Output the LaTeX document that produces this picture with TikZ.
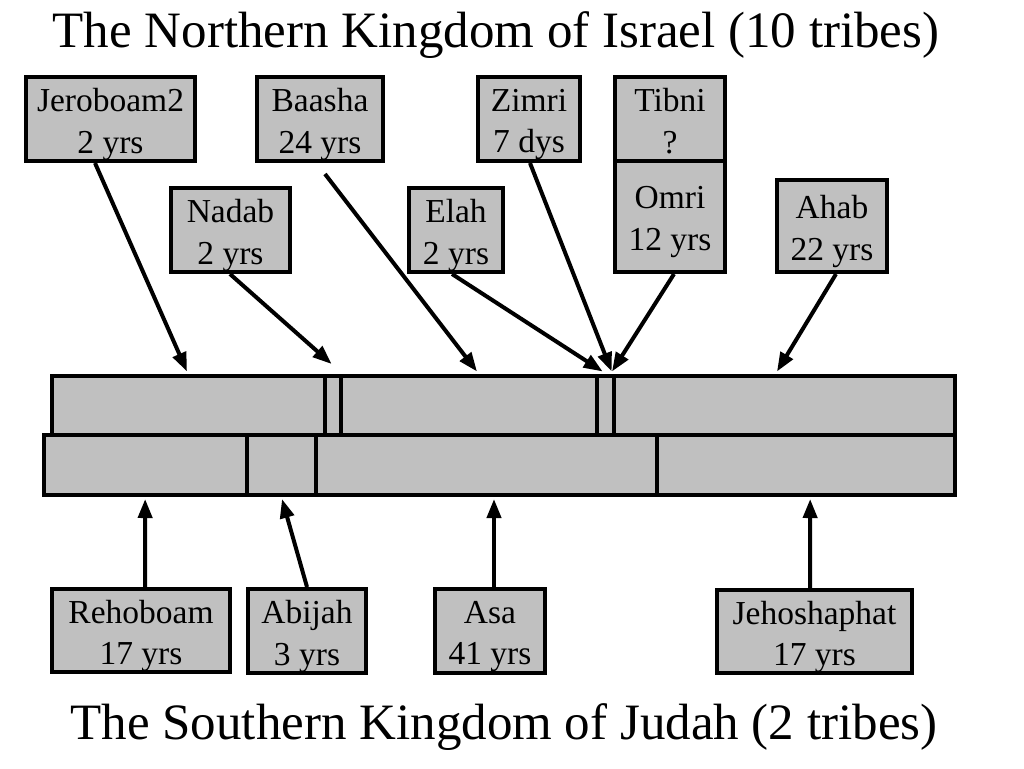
\documentclass[tikz,border=0pt]{standalone}
\usepackage{fontspec}
\setmainfont{Liberation Serif}
\usetikzlibrary{arrows.meta}
\definecolor{boxgray}{HTML}{C0C0C0}
\tikzset{
  kbox/.style={draw=black, line width=4pt, fill=boxgray, rectangle, inner sep=0pt},
  ktext/.style={align=center, font=\fontsize{33.5}{41.5}\selectfont, yshift=-5.5pt, inner sep=0pt},
  seg/.style={draw=black, line width=4pt, fill=boxgray, rectangle, inner sep=0pt},
  conn/.style={line width=4pt, -{Triangle[length=19pt,width=14pt]}},
  ktitle/.style={font=\fontsize{51}{60}\selectfont, anchor=base, inner sep=0pt}
}
\begin{document}
\begin{tikzpicture}[x=1pt,y=-1pt]
\useasboundingbox[fill=white] (0,0) rectangle (1024,768);

% titles
\node[ktitle] (north) at (496,48) {The Northern Kingdom of Israel (10 tribes)};
\node[ktitle] (south) at (504,739) {The Southern Kingdom of Judah (2 tribes)};

% upper bar segments (Israel)
\node[seg, minimum width=272.5pt, minimum height=59pt] (jerS) at (188.25,405.5) {};
\node[seg, minimum width=16.2pt, minimum height=59pt] (nadS) at (332.6,405.5) {};
\node[seg, minimum width=256.6pt, minimum height=59pt] (baaS) at (469,405.5) {};
\node[seg, minimum width=16.7pt, minimum height=59pt] (elaS) at (605.65,405.5) {};
\node[seg, minimum width=341pt, minimum height=59pt] (omrS) at (784.5,405.5) {};
% lower bar segments (Judah)
\node[seg, minimum width=203.3pt, minimum height=60pt] (rehS) at (145.65,465) {};
\node[seg, minimum width=68.4pt, minimum height=60pt] (abiS) at (281.5,465) {};
\node[seg, minimum width=341.6pt, minimum height=60pt] (asaS) at (486.5,465) {};
\node[seg, minimum width=297.7pt, minimum height=60pt] (jehS) at (806.15,465) {};

% king boxes (north)
\node[kbox, minimum width=169pt, minimum height=84pt, label={[ktext]center:Jeroboam2\\2 yrs}] (jer) at (110.5,119) {};
\node[kbox, minimum width=126pt, minimum height=84pt, label={[ktext]center:Baasha\\24 yrs}] (baa) at (320,119) {};
\node[kbox, minimum width=119pt, minimum height=84pt, label={[ktext]center:Nadab\\2 yrs}] (nad) at (230.5,230) {};
\node[kbox, minimum width=94pt, minimum height=84pt, label={[ktext]center:Elah\\2 yrs}] (ela) at (456,230) {};
\node[kbox, minimum width=102pt, minimum height=84pt, label={[ktext]center:Zimri\\7 dys}] (zim) at (529,119) {};
\node[kbox, minimum width=110pt, minimum height=84pt, label={[ktext]center:Tibni\\?\vphantom{y}}] (tib) at (670,119) {};
\node[kbox, minimum width=110pt, minimum height=111pt, label={[ktext]center:Omri\\12 yrs}] (omr) at (670,216.5) {};
\node[kbox, minimum width=110pt, minimum height=92pt, label={[ktext]center:Ahab\\22 yrs}] (aha) at (832,226) {};

% king boxes (south)
\node[kbox, minimum width=178pt, minimum height=83pt, label={[ktext]center:Rehoboam\\17 yrs}] (reh) at (141,630.5) {};
\node[kbox, minimum width=118pt, minimum height=84pt, label={[ktext]center:Abijah\\3 yrs}] (abi) at (307,631) {};
\node[kbox, minimum width=110pt, minimum height=84pt, label={[ktext]center:Asa\\41 yrs}] (asa) at (490,631) {};
\node[kbox, minimum width=195pt, minimum height=83pt, label={[ktext]center:Jehoshaphat\\17 yrs}] (jeh) at (814.5,631.5) {};

% connectors (north)
\draw[conn] ([xshift=-15.5pt]jer.south) -- ([xshift=-1.25pt,yshift=2.5pt]jerS.north);
\draw[conn] ([xshift=-0.5pt]nad.south) -- ([xshift=-1pt,yshift=10pt]nadS.north);
\draw[conn] ([xshift=5pt,yshift=-11pt]baa.south) -- ([xshift=8pt,yshift=2.5pt]baaS.north);
\draw[conn] ([xshift=-4pt]ela.south) -- ([xshift=-3pt,yshift=2.5pt]elaS.north);
\draw[conn] ([xshift=1pt]zim.south) -- ([xshift=6pt,yshift=2.5pt]elaS.north);
\draw[conn] ([xshift=4pt]omr.south) -- ([yshift=2.5pt]omrS.north west);
\draw[conn] ([xshift=4pt]aha.south) -- ([xshift=-7.5pt,yshift=2.5pt]omrS.north);

% connectors (south)
\draw[conn] ([xshift=4pt]reh.north) -- ([xshift=-0.5pt,yshift=-2pt]rehS.south);
\draw[conn] (abi.north) -- ([xshift=0.5pt,yshift=-2pt]abiS.south);
\draw[conn] ([xshift=4pt]asa.north) -- ([xshift=7.5pt,yshift=-2pt]asaS.south);
\draw[conn] ([xshift=-4.5pt]jeh.north) -- ([xshift=4pt,yshift=-2pt]jehS.south);
\end{tikzpicture}
\end{document}
